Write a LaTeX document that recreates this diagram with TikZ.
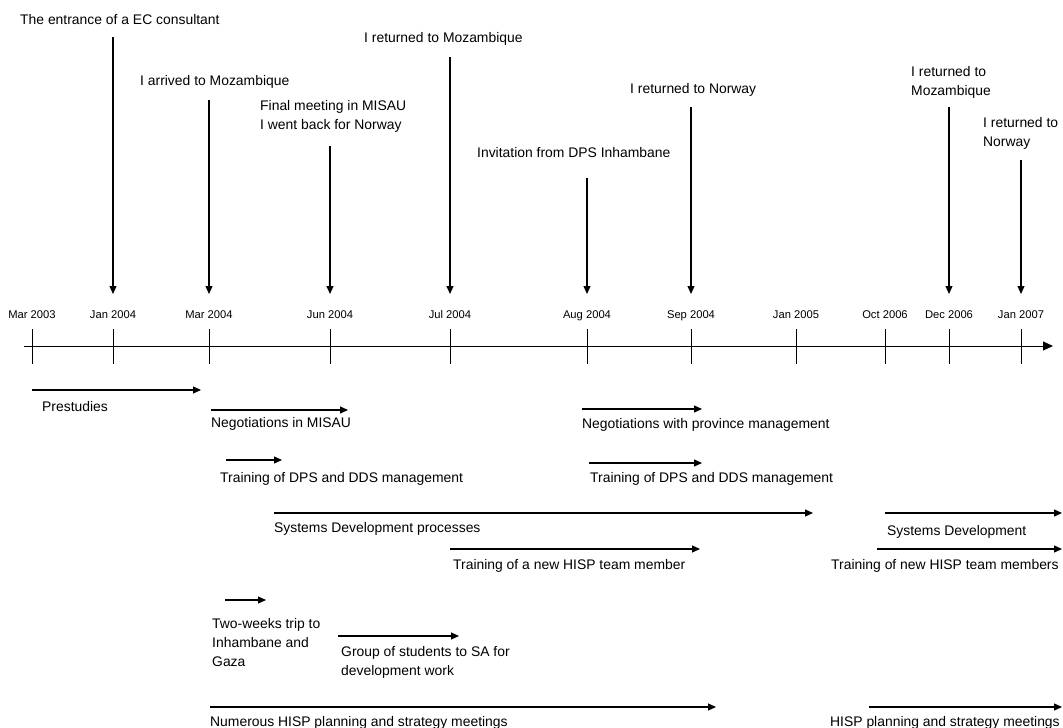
\documentclass[tikz,border=0pt]{standalone}
\usepackage{fontspec}
\setmainfont{Liberation Sans}
\usetikzlibrary{arrows.meta}
\begin{document}
\begin{tikzpicture}[x=1pt,y=-1pt,
  txt/.style={anchor=north west,inner sep=0pt,font=\fontsize{13.9}{19}\selectfont,align=left},
  datelbl/.style={anchor=base,inner sep=0pt,font=\fontsize{11.2}{13}\selectfont},
  evarrow/.style={line width=1.1pt,-{Triangle[length=8pt,width=7pt]}},
  bar/.style={line width=1.1pt,-{Triangle[length=8pt,width=7pt]}},
  tickmark/.style={line width=1pt}]
\useasboundingbox (0,0) rectangle (1063,728);

% time axis
\coordinate (ax0) at (24,346);
\coordinate (ax1) at (1053,346);
\draw[line width=1pt,-{Triangle[length=10pt,width=9pt]}] (ax0) -- (ax1);

% ticks and dates (all labels share one baseline)
\foreach \x/\lab/\n in {32/Mar 2003/d1,113/Jan 2004/d2,209/Mar 2004/d3,330/Jun 2004/d4,
  450/Jul 2004/d5,587/Aug 2004/d6,691/Sep 2004/d7,796/Jan 2005/d8,885/Oct 2006/d9,
  949/Dec 2006/d10,1021/Jan 2007/d11}{
  \coordinate (\n a) at (\x,329);
  \coordinate (\n b) at (\x,364);
  \draw[tickmark] (\n a) -- (\n b);
  \node[datelbl] (\n) at (\x,318) {\lab};
}

% events above the axis
\node[txt] (e1) at (20,14) {The entrance of a EC consultant};
\node[txt] (e2) at (140,75) {I arrived to Mozambique};
\node[txt] (e3) at (260,100) {Final meeting in MISAU\\I went back for Norway};
\node[txt] (e4) at (364,32) {I returned to Mozambique};
\node[txt] (e5) at (477,147) {Invitation from DPS Inhambane};
\node[txt] (e6) at (630,83) {I returned to Norway};
\node[txt] (e7) at (911,66) {I returned to\\Mozambique};
\node[txt] (e8) at (983,117) {I returned to\\Norway};

\foreach \x/\top/\n in {113/37/v1,209/100/v2,330/146/v3,450/57/v4,587/178/v5,
  691/107/v6,949/107/v7,1021/160/v8}{
  \coordinate (\n s) at (\x,\top);
  \coordinate (\n e) at (\x,294);
  \draw[evarrow] (\n s) -- (\n e);
}

% activities below the axis
\coordinate (p1s) at (32,390);   \coordinate (p1e) at (201,390);
\draw[bar] (p1s) -- (p1e);
\node[txt] (p1) at (42,401) {Prestudies};

\coordinate (p2s) at (211,410);  \coordinate (p2e) at (348,410);
\draw[bar] (p2s) -- (p2e);
\node[txt] (p2) at (211,417) {Negotiations in MISAU};

\coordinate (p3s) at (226,460);  \coordinate (p3e) at (282,460);
\draw[bar] (p3s) -- (p3e);
\node[txt] (p3) at (220,472) {Training of DPS and DDS management};

\coordinate (p4s) at (274,513);  \coordinate (p4e) at (813,513);
\draw[bar] (p4s) -- (p4e);
\node[txt] (p4) at (274,522) {Systems Development processes};

\coordinate (p5s) at (450,549);  \coordinate (p5e) at (700,549);
\draw[bar] (p5s) -- (p5e);
\node[txt] (p5) at (453,559) {Training of a new HISP team member};

\coordinate (p6s) at (582,409);  \coordinate (p6e) at (702,409);
\draw[bar] (p6s) -- (p6e);
\node[txt] (p6) at (582,418) {Negotiations with province management};

\coordinate (p7s) at (589,463);  \coordinate (p7e) at (702,463);
\draw[bar] (p7s) -- (p7e);
\node[txt] (p7) at (590,472) {Training of DPS and DDS management};

\coordinate (p8s) at (885,513);  \coordinate (p8e) at (1062,513);
\draw[bar] (p8s) -- (p8e);
\node[txt] (p8) at (887,525) {Systems Development};

\coordinate (p9s) at (877,549);  \coordinate (p9e) at (1062,549);
\draw[bar] (p9s) -- (p9e);
\node[txt] (p9) at (831,559) {Training of new HISP team members};

\coordinate (p10s) at (225,600); \coordinate (p10e) at (266,600);
\draw[bar] (p10s) -- (p10e);
\node[txt] (p10) at (212,618) {Two-weeks trip to\\Inhambane and\\Gaza};

\coordinate (p11s) at (338,636); \coordinate (p11e) at (459,636);
\draw[bar] (p11s) -- (p11e);
\node[txt] (p11) at (341,646) {Group of students to SA for\\development work};

\coordinate (p12s) at (210,707); \coordinate (p12e) at (716,707);
\draw[bar] (p12s) -- (p12e);
\node[txt] (p12) at (210,716) {Numerous HISP planning and strategy meetings};

\coordinate (p13s) at (869,707); \coordinate (p13e) at (1062,707);
\draw[bar] (p13s) -- (p13e);
\node[txt] (p13) at (830,716) {HISP planning and strategy meetings};
\end{tikzpicture}
\end{document}
